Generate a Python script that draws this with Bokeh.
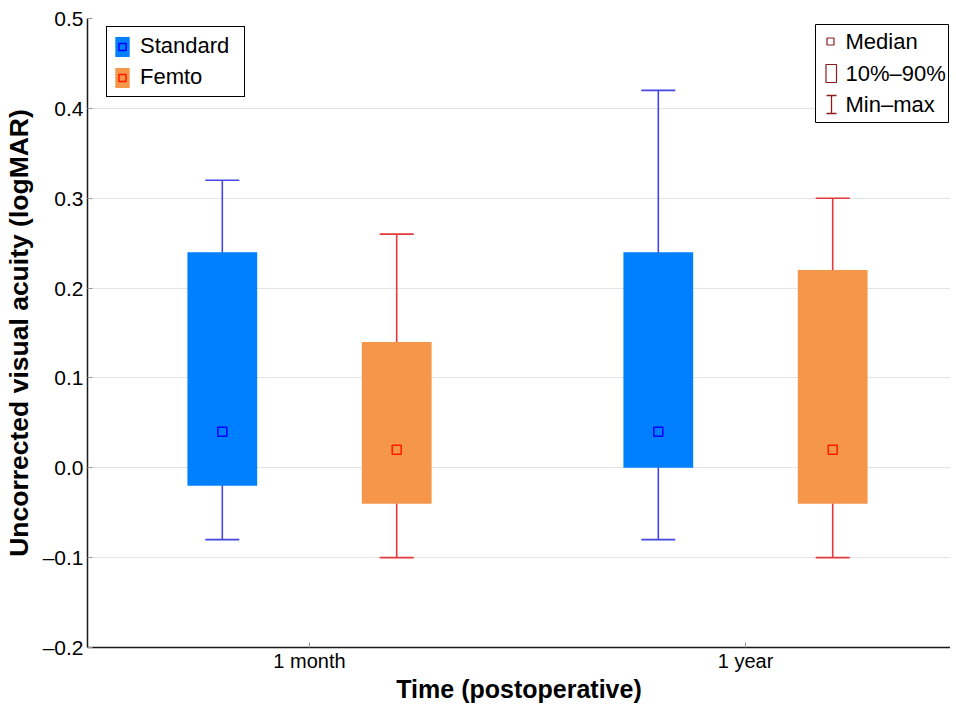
from bokeh.plotting import figure
from bokeh.models import (Range1d, FixedTicker, Legend, LegendItem, Label,
                          BoxAnnotation, ColumnDataSource)
from bokeh.embed import file_html
from bokeh.resources import INLINE

# ---------------- data ----------------
time_points = ["1 month", "1 year"]
groups = ["Standard", "Femto"]
std_min = [-0.08, -0.08]
std_p10 = [-0.02, 0.00]
std_med = [0.04, 0.04]
std_p90 = [0.24, 0.24]
std_max = [0.32, 0.42]
fem_min = [-0.10, -0.10]
fem_p10 = [-0.04, -0.04]
fem_med = [0.02, 0.02]
fem_p90 = [0.14, 0.22]
fem_max = [0.26, 0.30]
y_ticks = [-0.2, -0.1, 0.0, 0.1, 0.2, 0.3, 0.4, 0.5]
legend2_labels = ["Median", "10%\u201390%", "Min\u2013max"]
x_title = "Time (postoperative)"
y_title = "Uncorrected visual acuity (logMAR)"

FONT = "Liberation Sans"
XS, XE = -0.5092, 1.4702
YS, YE = -0.2, 0.5
W, H = 950, 706
FL, FR, FT, FB = 87, 950, 18, 647  # frame position (px)

p = figure(width=W, height=H, x_range=Range1d(XS, XE), y_range=Range1d(YS, YE),
           output_backend="svg", toolbar_location=None,
           min_border_left=FL, min_border_right=W - FR, min_border_top=FT,
           min_border_bottom=H - FB)
p.outline_line_color = None
p.background_fill_color = "white"


def dx(px):
    return XS + (px - FL) * (XE - XS) / (FR - FL)


def dy(py):
    return YE - (py - FT) * (YE - YS) / (FB - FT)


# grid
p.xgrid.grid_line_color = None
p.ygrid.grid_line_color = "#e4e4e4"
p.ygrid.grid_line_width = 1

# axes
p.yaxis.ticker = FixedTicker(ticks=y_ticks)
p.yaxis.major_label_overrides = {t: (f"{t:.1f}".replace("-", "\u2013")) for t in y_ticks}
p.xaxis.ticker = FixedTicker(ticks=list(range(len(time_points))))
p.xaxis.major_label_overrides = {i: t for i, t in enumerate(time_points)}
for ax in (p.xaxis[0], p.yaxis[0]):
    ax.axis_line_color = "#1a1a1a"
    ax.axis_line_width = 1.5
    ax.major_tick_in = 5
    ax.major_tick_out = 0
    ax.major_tick_line_color = "#999999"
    ax.minor_tick_line_color = None
    ax.major_label_text_font = FONT
    ax.major_label_text_color = "black"
    ax.axis_label_text_font = FONT
    ax.axis_label_text_font_style = "bold"
    ax.axis_label_text_color = "black"
p.yaxis.major_label_text_font_size = "21px"
p.xaxis.major_label_text_font_size = "20px"
p.yaxis.axis_label = y_title
p.yaxis.axis_label_text_font_size = "26.5px"
p.xaxis.axis_label = x_title
p.xaxis.axis_label_text_font_size = "25px"
p.xaxis.major_label_standoff = 2
p.xaxis.axis_label_standoff = 0
p.yaxis.major_label_standoff = 4
p.yaxis.axis_label_standoff = 6

# ---------------- boxes ----------------
offset = 0.2
box_w = 0.16
cap_half = 0.039
specs = [
    ("Standard", -offset, std_min, std_p10, std_med, std_p90, std_max, "#0080ff", "#4646e6", "#0000ff"),
    ("Femto", offset, fem_min, fem_p10, fem_med, fem_p90, fem_max, "#f5964a", "#e23a3a", "#ff1a00"),
]
legend_items = []
for name, off, mn, p10, med, p90, mx, fill, wcol, mcol in specs:
    xs = [i + off for i in range(len(time_points))]
    src = ColumnDataSource(dict(x=xs, xl=[x - cap_half for x in xs], xr=[x + cap_half for x in xs],
                                mn=mn, p10=p10, med=med, p90=p90, mx=mx))
    p.segment(x0="x", y0="mn", x1="x", y1="mx", source=src, line_color=wcol, line_width=1.6)
    p.segment(x0="xl", y0="mx", x1="xr", y1="mx", source=src, line_color=wcol, line_width=1.6)
    p.segment(x0="xl", y0="mn", x1="xr", y1="mn", source=src, line_color=wcol, line_width=1.6)
    rb = p.vbar(x="x", width=box_w, bottom="p10", top="p90", source=src,
                fill_color=fill, line_color=None)
    rm = p.scatter(x="x", y="med", source=src, marker="square", size=9,
                   fill_alpha=0, line_color=mcol, line_width=1.5)
    legend_items.append(LegendItem(label=name, renderers=[rb, rm]))

leg_h = 67
leg = Legend(items=legend_items, location=(106 - FL, (FB - FT) - (30 - FT) - leg_h),
             orientation="vertical")
leg.border_line_color = "black"
leg.border_line_width = 1
leg.border_line_alpha = 1
leg.background_fill_color = "white"
leg.background_fill_alpha = 1
leg.label_text_font = FONT
leg.label_text_font_size = "22px"
leg.label_text_color = "black"
leg.glyph_width = 18
leg.glyph_height = 25
leg.label_standoff = 9
leg.label_width = 98
leg.padding = 6
leg.spacing = 5
leg.margin = 0
p.add_layout(leg)

# ---------------- second (key) legend ----------------
key_col = "#8b1c1c"
p.add_layout(BoxAnnotation(left=dx(815), right=dx(948), top=dy(24), bottom=dy(122),
                           fill_color="white", fill_alpha=1, line_color="black",
                           line_alpha=1, line_width=1, level="underlay"))
rows = [41, 73, 104]
p.scatter(x=[dx(830)], y=[dy(rows[0])], marker="square", size=7,
          fill_color="white", line_color=key_col, line_width=1.2)
p.add_layout(BoxAnnotation(left=dx(825.5), right=dx(836), top=dy(64), bottom=dy(82),
                           fill_color="white", fill_alpha=1, line_color=key_col,
                           line_alpha=1, line_width=1.2, level="underlay"))
p.segment(x0=[dx(831), dx(826), dx(826)], y0=[dy(95), dy(95), dy(113)],
          x1=[dx(831), dx(836), dx(836)], y1=[dy(113), dy(95), dy(113)],
          line_color=key_col, line_width=1.3)
for lab, r in zip(legend2_labels, rows):
    p.add_layout(Label(x=dx(845), y=dy(r), text=lab, text_font=FONT,
                       text_font_size="22px", text_baseline="middle", text_align="left",
                       text_color="black"))

open("out.html", "w").write(file_html(p, INLINE))
